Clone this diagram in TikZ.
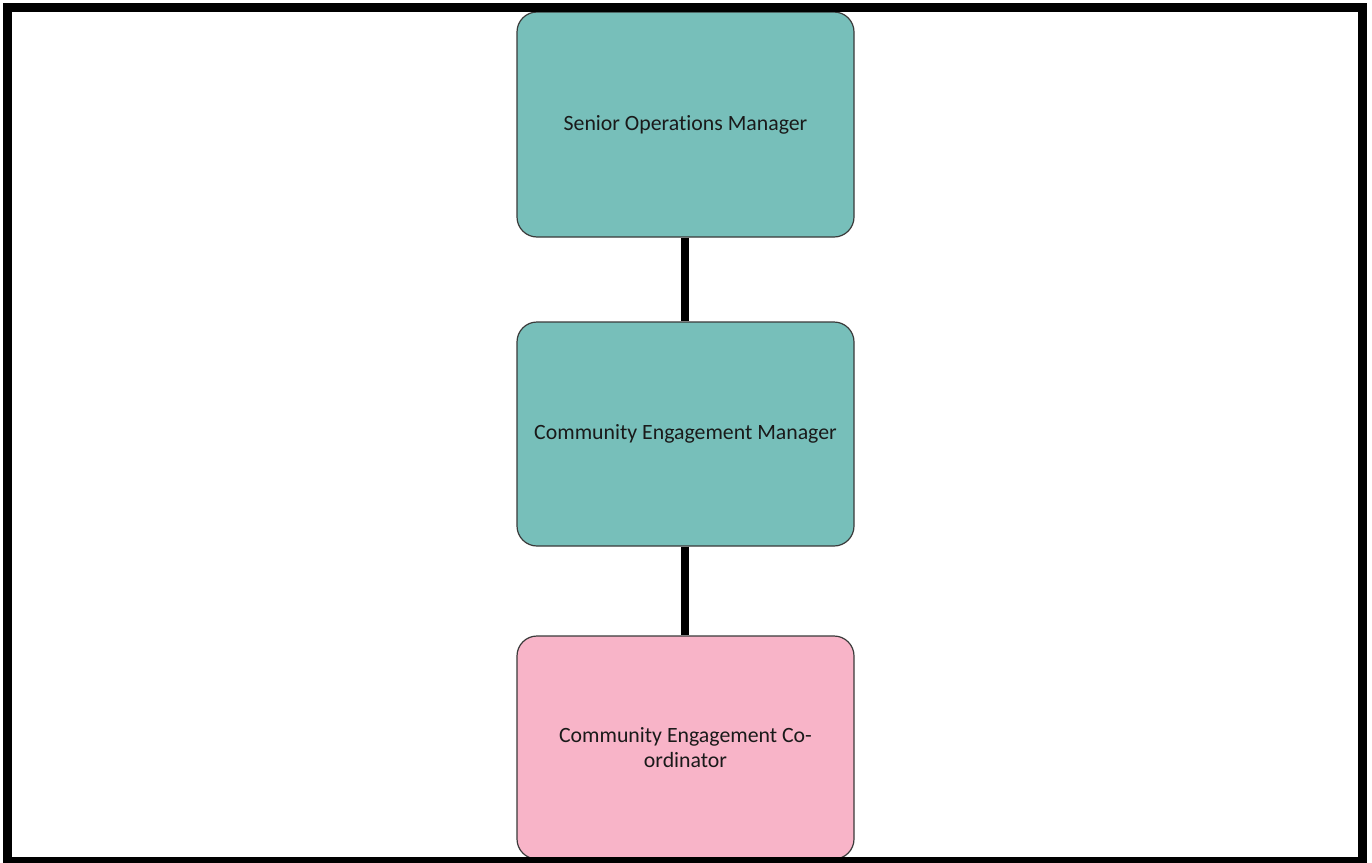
\documentclass[tikz,border=0pt]{standalone}
\usepackage{fontspec}
\setmainfont[Ligatures=NoCommon]{Carlito}
\definecolor{tealbox}{HTML}{77BFBA}
\definecolor{pinkbox}{HTML}{F8B4C8}
\definecolor{edgegray}{HTML}{3A3A3A}
\definecolor{txt}{HTML}{1A1A1A}
\begin{document}
\begin{tikzpicture}[x=1pt,y=-1pt,
  rolebox/.style={draw=edgegray,line width=1.2pt,rounded corners=20pt,
    minimum width=337pt,inner sep=0pt,text=txt,align=center,
    font=\fontsize{21.8}{24.5}\selectfont},
  link/.style={line width=8pt,black}]
\useasboundingbox (0,0) rectangle (1372,862);
\fill[white] (0,0) rectangle (1372,862);
\node[rolebox,fill=tealbox,minimum height=225pt] (som) at (685.5,124.5) {Senior Operations Manager};
\node[rolebox,fill=tealbox,minimum height=224pt] (cem) at (685.5,434) {Community Engagement Manager};
\node[rolebox,fill=pinkbox,minimum height=223pt] (cec) at (685.5,747.5) {Community Engagement Co-\\ordinator};
\draw[link] (som.south -| 684.5,0) -- (cem.north -| 684.5,0);
\draw[link] (cem.south -| 684.5,0) -- (cec.north -| 684.5,0);
\draw[line width=9pt,black] (7.5,7.5) rectangle (1362.5,861.5);
\end{tikzpicture}
\end{document}
